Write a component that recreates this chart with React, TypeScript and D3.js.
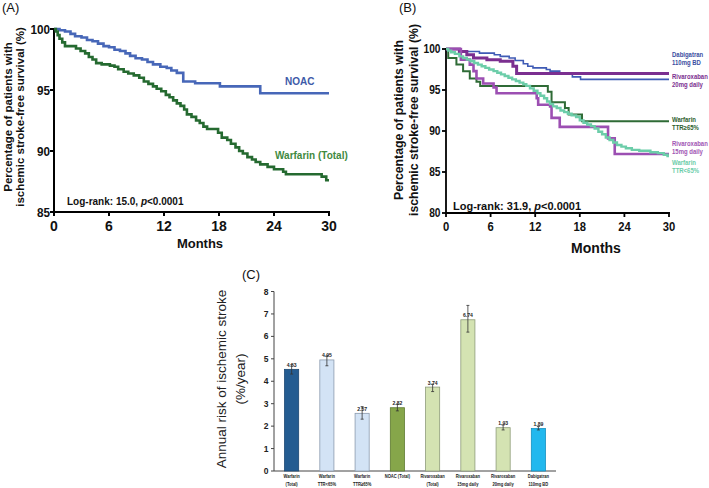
import React from "react";
import * as d3 from "d3";

// ---------- Panel A data: [month, survival %] step points ----------
const noacA: [number, number][] = [
  [0, 100], [0.6, 99.9], [1.2, 99.8], [1.8, 99.6], [2.3, 99.4], [3.0, 99.3], [3.6, 99.1], [4.2, 99.0],
  [4.8, 98.8], [5.4, 98.6], [6.0, 98.5], [6.6, 98.3], [7.2, 98.2], [7.8, 98.0], [8.3, 97.8], [8.9, 97.6],
  [9.6, 97.5], [10.2, 97.3], [10.8, 97.1], [11.6, 96.9], [12.3, 96.8], [12.8, 96.6], [13.4, 96.4],
  [14.1, 95.7], [15.4, 95.55], [18.1, 95.3], [22.5, 94.73], [30, 94.73],
];
const warfarinA: [number, number][] = [
  [0, 100], [0.2, 99.8], [0.4, 99.5], [0.6, 99.2], [0.9, 98.9], [1.2, 98.6], [2.4, 98.4], [2.9, 98.2],
  [3.4, 98.0], [3.8, 97.7], [4.2, 97.5], [4.6, 97.2], [5.2, 97.1], [6.1, 97.0], [6.6, 96.9], [7.0, 96.7],
  [7.6, 96.5], [8.1, 96.35], [8.7, 96.2], [9.3, 96.0], [9.8, 95.7], [10.3, 95.5], [10.8, 95.3], [11.2, 95.1],
  [11.7, 94.9], [12.2, 94.6], [12.6, 94.4], [13.0, 94.15], [13.4, 93.9], [13.8, 93.7], [14.2, 93.4],
  [14.5, 93.0], [15.0, 92.8], [15.5, 92.5], [15.9, 92.3], [16.3, 92.0], [16.7, 91.8], [17.9, 91.5],
  [18.3, 91.1], [18.9, 90.9], [19.3, 90.6], [19.8, 90.3], [20.2, 90.0], [20.6, 89.8], [21.1, 89.5],
  [21.6, 89.3], [22.0, 89.1], [22.5, 88.9], [23.3, 88.7], [24.0, 88.5], [25.0, 88.3], [25.3, 88.1],
  [29.2, 87.9], [29.7, 87.6], [30, 87.6],
];

// ---------- Panel B data ----------
const dabigatranB: [number, number][] = [
  [0, 100], [1.8, 99.7], [4.5, 99.5], [6.5, 99.3], [7.3, 99.1], [8.5, 98.9], [9.3, 98.6], [10.4, 98.2],
  [11.0, 97.9], [11.7, 97.7], [13.5, 97.5], [14.0, 97.3], [15.3, 97.0], [17.0, 96.6], [18.1, 96.3], [30, 96.3],
];
const riva20B: [number, number][] = [
  [0, 100], [1.8, 99.7], [2.8, 99.3], [3.7, 98.9], [5.5, 98.7], [7.3, 98.5], [9.0, 97.9], [9.5, 97.0], [30, 97.0],
];
const warfHighB: [number, number][] = [
  [0, 100], [0.3, 98.9], [1.4, 98.1], [2.3, 97.3], [3.2, 96.4], [4.1, 96.0], [4.6, 95.5], [13.7, 94.8],
  [14.2, 93.5], [16.0, 92.8], [16.5, 92.0], [18.3, 91.2], [30, 91.2],
];
const riva15B: [number, number][] = [
  [0, 100], [2.0, 98.7], [3.2, 98.1], [3.7, 97.3], [4.1, 96.4], [5.0, 95.8], [6.4, 95.3], [6.8, 94.6],
  [12.2, 94.0], [12.4, 93.2], [14.0, 93.0], [14.2, 91.6], [15.3, 90.5], [21.8, 89.1], [22.7, 87.2], [30, 87.2],
];
const warfLowB: [number, number][] = [
  [0, 100], [0.3, 99.8], [0.7, 99.6], [1.2, 99.4], [1.8, 99.1], [2.3, 98.9], [2.8, 98.7], [3.3, 98.5],
  [3.8, 98.3], [4.3, 98.1], [4.8, 97.9], [5.3, 97.7], [5.8, 97.5], [6.4, 97.3], [6.9, 97.1], [7.4, 96.9],
  [7.9, 96.7], [8.4, 96.5], [8.9, 96.3], [9.4, 96.1], [9.9, 95.9], [10.4, 95.7], [10.8, 95.5], [11.3, 95.2],
  [11.8, 94.9], [12.3, 94.6], [12.7, 94.3], [13.2, 94.0], [13.6, 93.6], [14.0, 93.3], [14.4, 93.0],
  [14.9, 92.8], [15.4, 92.5], [15.9, 92.3], [16.4, 92.1], [16.9, 91.9], [17.5, 91.7], [18.0, 91.3],
  [18.5, 91.0], [19.0, 90.8], [19.5, 90.6], [20.0, 90.3], [20.5, 89.9], [21.0, 89.6], [21.5, 89.2],
  [22.0, 88.9], [22.5, 88.6], [23.0, 88.3], [23.6, 88.1], [24.2, 87.9], [25.0, 87.7], [26.0, 87.6],
  [27.5, 87.4], [28.5, 87.3], [29.3, 87.1], [29.8, 86.95], [30, 86.95],
];

const monthTicks = [0, 6, 12, 18, 24, 30];
const yTicksA = [85, 90, 95, 100];
const yTicksB = [80, 85, 90, 95, 100];

// ---------- Panel C data ----------
const barLine1 = ["Warfarin", "Warfarin", "Warfarin", "NOAC (Total)", "Rivaroxaban", "Rivaroxaban", "Rivaroxaban", "Dabigatran"];
const barLine2 = ["(Total)", "TTR<65%", "TTR≥65%", "", "(Total)", "15mg daily", "20mg daily", "110mg BD"];
const barValues = [4.53, 4.95, 2.57, 2.82, 3.74, 6.74, 1.93, 1.89];
const barLow = [4.32, 4.69, 2.31, 2.68, 3.54, 6.19, 1.83, 1.83];
const barHigh = [4.73, 5.13, 2.87, 2.98, 3.87, 7.38, 2.05, 1.98];
const barFill = ["#245C91", "#D3E3F5", "#D3E3F5", "#86A64A", "#D4E3B2", "#D4E3B2", "#D4E3B2", "#22B8EE"];
const barStroke = ["#1B4772", "#8C9BAE", "#8C9BAE", "#5E7A30", "#8E9C7A", "#8E9C7A", "#8E9C7A", "#1590C0"];
const yTicksC = [0, 1, 2, 3, 4, 5, 6, 7, 8];

const FONT = "'Liberation Sans', Arial, Helvetica, sans-serif";

function NarrowText(props: {
  x: number; y: number; sx: number; size: number; fill: string; anchor?: string; bold?: boolean; children: React.ReactNode;
}) {
  return (
    <g transform={`translate(${props.x},${props.y}) scale(${props.sx},1)`}>
      <text x={0} y={0} fontSize={props.size} fontWeight={props.bold === false ? "normal" : "bold"} fill={props.fill}
        textAnchor={(props.anchor || "start") as any}>
        {props.children}
      </text>
    </g>
  );
}

export default function App() {
  // Panel A scales
  const xA = d3.scaleLinear().domain([0, 30]).range([54, 329]);
  const yA = d3.scaleLinear().domain([85, 100]).range([212, 29]);
  const lineA = d3.line<[number, number]>().x((d) => xA(d[0])).y((d) => yA(d[1])).curve(d3.curveStepAfter);

  // Panel B scales
  const xB = d3.scaleLinear().domain([0, 30]).range([446, 669]);
  const yB = d3.scaleLinear().domain([80, 100]).range([213, 49]);
  const lineB = d3.line<[number, number]>().x((d) => xB(d[0])).y((d) => yB(d[1])).curve(d3.curveStepAfter);

  // Panel C scales
  const idx = barValues.map((_, i) => String(i));
  const xC = d3.scaleBand<string>().domain(idx).range([274, 556]).paddingInner(0.6).paddingOuter(0.3);
  const yC = d3.scaleLinear().domain([0, 8]).range([471, 291.5]);
  const bw = xC.bandwidth();

  const seriesB = [
    { d: dabigatranB, color: "#3F5BB5", w: 1.6 },
    { d: riva20B, color: "#7B2F90", w: 3 },
    { d: warfHighB, color: "#2F6B36", w: 2 },
    { d: riva15B, color: "#9C4FB2", w: 2.6 },
    { d: warfLowB, color: "#6CCDA9", w: 2.4 },
  ];

  const legendB = [
    { t1: "Dabigatran", t2: "110mg BD", y: 57, color: "#3B4FA2" },
    { t1: "Rivaroxaban", t2: "20mg daily", y: 79, color: "#7B2F90" },
    { t1: "Warfarin", t2: "TTR≥65%", y: 122, color: "#2E5E2E" },
    { t1: "Rivaroxaban", t2: "15mg daily", y: 146, color: "#A157B4" },
    { t1: "Warfarin", t2: "TTR<65%", y: 165, color: "#6CCDA9" },
  ];

  return (
    <svg width={709} height={488} style={{ position: "absolute", left: 0, top: 0, background: "#fff" }} fontFamily={FONT}>
      {/* ================= Panel A ================= */}
      <text x={2} y={12} fontSize={13} fill="#111">(A)</text>
      <g transform="translate(11.5,117) rotate(-90)">
        <text x={0} y={0} textAnchor="middle" fontSize={11.5} fontWeight="bold" fill="#111">Percentage of patients with</text>
        <text x={0} y={12.5} textAnchor="middle" fontSize={11.5} fontWeight="bold" fill="#111">ischemic stroke-free survival (%)</text>
      </g>
      <line x1={xA(0)} x2={xA(0)} y1={yA(100) - 1} y2={yA(85) + 1} stroke="#000" strokeWidth={2} />
      <line x1={xA(0) - 1} x2={xA(30) + 1} y1={yA(85)} y2={yA(85)} stroke="#000" strokeWidth={2} />
      {yTicksA.map((t) => (
        <g key={"ya" + t}>
          <line x1={xA(0) - 4} x2={xA(0)} y1={yA(t)} y2={yA(t)} stroke="#000" strokeWidth={2} />
          <NarrowText x={xA(0) - 4} y={yA(t) + 4.5} sx={0.9} size={13} fill="#111" anchor="end">{t}</NarrowText>
        </g>
      ))}
      {monthTicks.map((t) => (
        <g key={"xa" + t}>
          <line x1={xA(t)} x2={xA(t)} y1={yA(85)} y2={yA(85) + 4} stroke="#000" strokeWidth={2} />
          <text x={xA(t)} y={231} textAnchor="middle" fontSize={14} fontWeight="bold" fill="#111">{t}</text>
        </g>
      ))}
      <text x={200} y={248} textAnchor="middle" fontSize={13} fontWeight="bold" fill="#111">Months</text>
      <path d={lineA(noacA) || ""} fill="none" stroke="#4767B8" strokeWidth={2.6} />
      <path d={lineA(warfarinA) || ""} fill="none" stroke="#256A30" strokeWidth={2.6} />
      <text x={285} y={85} fontSize={10} fontWeight="bold" fill="#3D5AA8">NOAC</text>
      <text x={275} y={159} fontSize={10} fontWeight="bold" fill="#3F8A3F">Warfarin (Total)</text>
      <text x={67} y={205} fontSize={10} fontWeight="bold" fill="#111">
        Log-rank: 15.0, <tspan fontStyle="italic">p</tspan>&lt;0.0001
      </text>

      {/* ================= Panel B ================= */}
      <text x={399} y={12} fontSize={13} fill="#111">(B)</text>
      <g transform="translate(403,120) rotate(-90)">
        <text x={0} y={0} textAnchor="middle" fontSize={12.3} fontWeight="bold" fill="#111">Percentage of patients with</text>
        <text x={0} y={15} textAnchor="middle" fontSize={12.3} fontWeight="bold" fill="#111">ischemic stroke-free survival (%)</text>
      </g>
      <line x1={xB(0)} x2={xB(0)} y1={yB(100) - 1} y2={yB(80) + 1} stroke="#000" strokeWidth={1.8} />
      <line x1={xB(0) - 1} x2={xB(30) + 1} y1={yB(80)} y2={yB(80)} stroke="#000" strokeWidth={1.8} />
      {yTicksB.map((t) => (
        <g key={"yb" + t}>
          <line x1={xB(0) - 4} x2={xB(0)} y1={yB(t)} y2={yB(t)} stroke="#000" strokeWidth={1.8} />
          <NarrowText x={xB(0) - 5.5} y={yB(t) + 4} sx={0.85} size={12} fill="#111" anchor="end">{t}</NarrowText>
        </g>
      ))}
      {monthTicks.map((t) => (
        <g key={"xb" + t}>
          <line x1={xB(t)} x2={xB(t)} y1={yB(80)} y2={yB(80) + 4} stroke="#000" strokeWidth={1.8} />
          <NarrowText x={xB(t)} y={231} sx={0.9} size={12.5} fill="#111" anchor="middle">{t}</NarrowText>
        </g>
      ))}
      <text x={596} y={253} textAnchor="middle" fontSize={14} fontWeight="bold" fill="#111">Months</text>
      {seriesB.map((s, i) => (
        <path key={"sb" + i} d={lineB(s.d) || ""} fill="none" stroke={s.color} strokeWidth={s.w} />
      ))}
      {legendB.map((l, i) => (
        <g key={"lb" + i}>
          <NarrowText x={672} y={l.y} sx={0.88} size={6.8} fill={l.color}>{l.t1}</NarrowText>
          <NarrowText x={672} y={l.y + 7.6} sx={0.88} size={6.8} fill={l.color}>{l.t2}</NarrowText>
        </g>
      ))}
      <text x={453} y={210} fontSize={11} fontWeight="bold" fill="#111">
        Log-rank: 31.9, <tspan fontStyle="italic">p</tspan>&lt;0.0001
      </text>

      {/* ================= Panel C ================= */}
      <text x={242} y={279} fontSize={13} fill="#111">(C)</text>
      <g transform="translate(226,379) rotate(-90)">
        <text x={0} y={0} textAnchor="middle" fontSize={13.5} fill="#222">Annual risk of ischemic stroke</text>
        <text x={0} y={19} textAnchor="middle" fontSize={13.5} fill="#222">(%/year)</text>
      </g>
      <line x1={274} x2={274} y1={yC(8)} y2={yC(0)} stroke="#444" strokeWidth={1} />
      <line x1={274} x2={556} y1={yC(0)} y2={yC(0)} stroke="#444" strokeWidth={1} />
      {yTicksC.map((t) => (
        <g key={"yc" + t}>
          <line x1={271} x2={274} y1={yC(t)} y2={yC(t)} stroke="#444" strokeWidth={1} />
          <text x={268.5} y={yC(t) + 3} textAnchor="end" fontSize={8.5} fontWeight="bold" fill="#222">{t}</text>
        </g>
      ))}
      {barValues.map((v, i) => {
        const x0 = xC(String(i)) as number;
        const cx = x0 + bw / 2;
        return (
          <g key={"bar" + i}>
            <rect x={x0} y={yC(v)} width={bw} height={yC(0) - yC(v)} fill={barFill[i]} stroke={barStroke[i]} strokeWidth={0.8} />
            <line x1={cx} x2={cx} y1={yC(barHigh[i])} y2={yC(barLow[i])} stroke="#333" strokeWidth={0.8} />
            <line x1={cx - 1.5} x2={cx + 1.5} y1={yC(barHigh[i])} y2={yC(barHigh[i])} stroke="#333" strokeWidth={0.8} />
            <line x1={cx - 1.5} x2={cx + 1.5} y1={yC(barLow[i])} y2={yC(barLow[i])} stroke="#333" strokeWidth={0.8} />
            <NarrowText x={cx} y={yC(v) - 2.5} sx={0.85} size={6} fill="#222" anchor="middle">{v.toFixed(2)}</NarrowText>
            <NarrowText x={cx} y={478} sx={0.68} size={6} fill="#222" anchor="middle">{barLine1[i]}</NarrowText>
            <NarrowText x={cx} y={485.5} sx={0.68} size={6} fill="#222" anchor="middle">{barLine2[i]}</NarrowText>
          </g>
        );
      })}
    </svg>
  );
}
